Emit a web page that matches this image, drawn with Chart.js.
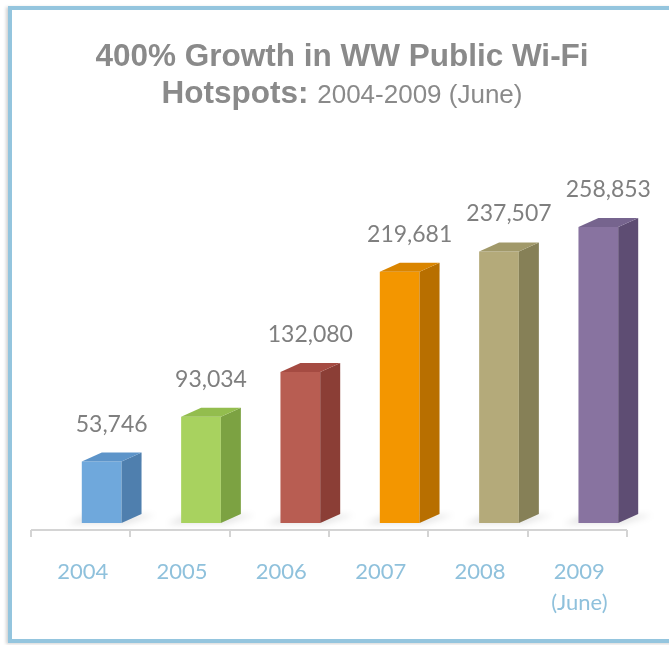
<!DOCTYPE html>
<html>
<head>
<meta charset="utf-8">
<script src="https://cdn.jsdelivr.net/npm/chart.js@4"></script>
<style>
  html, body { margin: 0; padding: 0; background: #fff; }
  body { width: 669px; height: 645px; position: relative; overflow: hidden; }
  #frame {
    position: absolute; left: 8px; top: 6px; width: 720px; height: 637px;
    box-sizing: border-box; border: 4.5px solid #94c5de;
    box-shadow: -2px 1px 3px rgba(0,0,0,0.18);
    background: #fff;
  }
  #c { position: absolute; left: 0; top: 0; }
  #title {
    position: absolute; left: 0; top: 37px; width: 684px; text-align: center;
    font-family: "Liberation Sans", Arial, sans-serif; color: #8a8a8a;
    font-size: 31.5px; line-height: 37px; font-weight: bold;
  }
  #title .sub { font-weight: normal; font-size: 26px; }
</style>
</head>
<body>
<div id="frame"></div>
<canvas id="c" width="669" height="645"></canvas>
<div id="title">400% Growth in WW Public Wi-Fi<br>Hotspots: <span class="sub">2004-2009 (June)</span></div>
<script>
// data
const years = ['2004', '2005', '2006', '2007', '2008', ['2009', '(June)']];
const hotspots = [53746, 93034, 132080, 219681, 237507, 258853];

// colours per bar: front, side, top
const frontColors = ['#6fa8dc', '#a8d25f', '#b85d52', '#f39600', '#b4aa7a', '#8873a0'];
const sideColors  = ['#4f7fae', '#7ca242', '#8b3e36', '#b86f00', '#868057', '#5e4d73'];
const topColors   = ['#5d94c9', '#93bd4e', '#a54b42', '#da8500', '#a1996a', '#76648e'];

const depthX = 20, depthY = -9;   // 3d offset of the back faces
const floorShift = -21;           // front edge of the floor, left of the bar bases

const bars3d = {
  id: 'bars3d',
  beforeDatasetsDraw(chart) {
    const ctx = chart.ctx;
    const xs = chart.scales.x;
    const area = chart.chartArea;
    const meta = chart.getDatasetMeta(0);
    // soft floor shadows
    ctx.save();
    ctx.filter = 'blur(3px)';
    ctx.fillStyle = 'rgba(0,0,0,0.10)';
    meta.data.forEach(bar => {
      const p = bar.getProps(['x', 'base', 'width'], true);
      const l = p.x - p.width / 2, r = p.x + p.width / 2;
      ctx.beginPath();
      ctx.moveTo(l - 14, p.base + 1);
      ctx.lineTo(r + 4, p.base + 1);
      ctx.lineTo(r + depthX + 14, p.base + depthY + 1);
      ctx.lineTo(l + 4, p.base + depthY + 1);
      ctx.closePath();
      ctx.fill();
    });
    ctx.restore();

    // axis line + tick marks at the category boundaries
    const y0 = area.bottom + 7;
    const half = (xs.getPixelForValue(1) - xs.getPixelForValue(0)) / 2;
    ctx.save();
    ctx.strokeStyle = '#d4d4d4';
    ctx.lineWidth = 2;
    ctx.beginPath();
    ctx.moveTo(area.left + floorShift, y0);
    ctx.lineTo(area.right + floorShift, y0);
    for (let i = 0; i <= years.length; i++) {
      const tx = Math.round(xs.getPixelForValue(0) - half + i * half * 2 + floorShift);
      ctx.moveTo(tx, y0);
      ctx.lineTo(tx, y0 + 7);
    }
    ctx.stroke();
    ctx.restore();
  },
  afterDatasetsDraw(chart) {
    const ctx = chart.ctx;
    const meta = chart.getDatasetMeta(0);
    ctx.save();
    meta.data.forEach((bar, i) => {
      const p = bar.getProps(['x', 'y', 'base', 'width'], true);
      const l = p.x - p.width / 2, r = p.x + p.width / 2;
      // side face
      ctx.fillStyle = sideColors[i];
      ctx.beginPath();
      ctx.moveTo(r, p.y);
      ctx.lineTo(r + depthX, p.y + depthY);
      ctx.lineTo(r + depthX, p.base + depthY);
      ctx.lineTo(r, p.base);
      ctx.closePath();
      ctx.fill();
      // top face
      ctx.fillStyle = topColors[i];
      ctx.beginPath();
      ctx.moveTo(l, p.y);
      ctx.lineTo(l + depthX, p.y + depthY);
      ctx.lineTo(r + depthX, p.y + depthY);
      ctx.lineTo(r, p.y);
      ctx.closePath();
      ctx.fill();
      // value label
      ctx.fillStyle = '#7f7f7f';
      ctx.font = '23px Lato, "Open Sans", sans-serif';
      ctx.textAlign = 'center';
      ctx.textBaseline = 'alphabetic';
      ctx.fillText(hotspots[i].toLocaleString('en-US'), p.x + depthX / 2, p.y + depthY - 21);
    });
    ctx.restore();
  }
};

new Chart(document.getElementById('c').getContext('2d'), {
  type: 'bar',
  data: {
    labels: years,
    datasets: [{
      data: hotspots,
      backgroundColor: frontColors,
      borderWidth: 0,
      categoryPercentage: 1,
      barPercentage: 0.4
    }]
  },
  options: {
    responsive: false,
    animation: false,
    events: [],
    layout: { padding: { left: 52, right: 21, top: 180, bottom: 0 } },
    plugins: {
      legend: { display: false },
      tooltip: { enabled: false },
      title: { display: false }
    },
    scales: {
      y: { display: false, min: 0, max: 300000 },
      x: {
        grid: { display: false, drawTicks: false },
        border: { display: false },
        afterFit: scale => { scale.height = 122; },
        ticks: {
          color: '#8fc1dc',
          font: { family: 'Lato, "Open Sans", sans-serif', size: 22, lineHeight: 1.4 },
          padding: 34,
          labelOffset: -19,
          maxRotation: 0,
          autoSkip: false
        }
      }
    }
  },
  plugins: [bars3d]
});
</script>
</body>
</html>
